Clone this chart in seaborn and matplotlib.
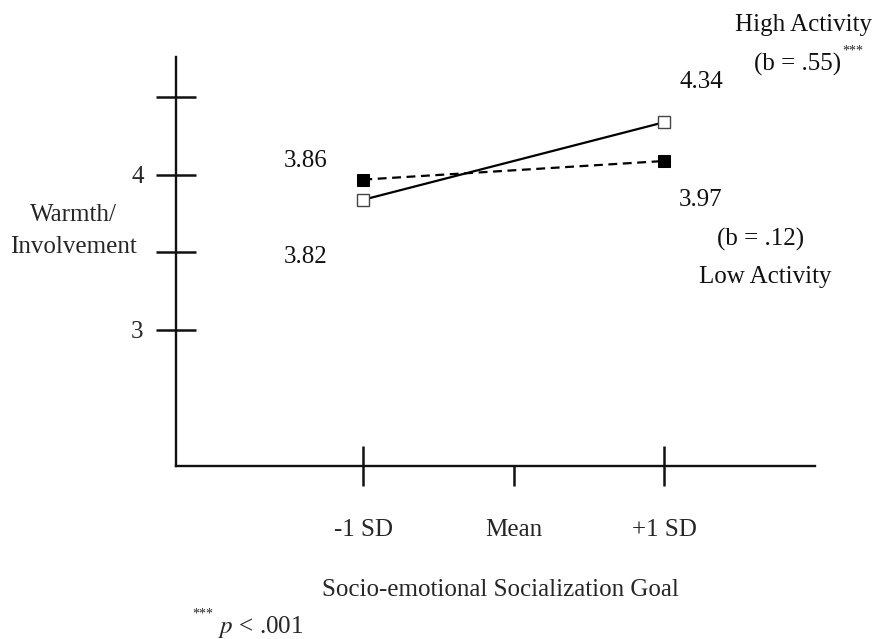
import matplotlib
matplotlib.use('Agg')
import matplotlib.pyplot as plt
import seaborn as sns
import pandas as pd

# Data
x_pos = [-1, 1]
high_activity = [3.84, 4.34]
low_activity = [3.97, 4.09]
x_ticks = [-1, 0, 1]
x_tick_labels = ['-1 SD', 'Mean', '+1 SD']
y_ticks = [3, 3.5, 4, 4.5]
y_tick_labels = ['3', '', '4', '']

sns.set_theme(style='white')
plt.rcParams['font.family'] = ['Liberation Serif', 'DejaVu Serif']
plt.rcParams['mathtext.fontset'] = 'stix'

FS = 18

df_high = pd.DataFrame({'x': x_pos, 'y': high_activity})
df_low = pd.DataFrame({'x': x_pos, 'y': low_activity})

fig = plt.figure(figsize=(8.75, 6.39), dpi=100)
ax = fig.add_axes([176 / 875, 1 - 465.7 / 639, 639 / 875, 408.7 / 639])

sns.lineplot(data=df_high, x='x', y='y', ax=ax, color='black', linewidth=1.6,
             marker='s', markersize=8.5, markerfacecolor='white',
             markeredgecolor='#444444', markeredgewidth=1.0)
sns.lineplot(data=df_low, x='x', y='y', ax=ax, color='black', linewidth=1.6,
             linestyle=(0, (4, 2.5)), marker='s', markersize=8.5,
             markerfacecolor='black', markeredgecolor='black')

ax.set_xlim(-2.245, 2.003)
ax.set_ylim(2.124, 4.761)

sns.despine(ax=ax)
for side in ['left', 'bottom']:
    ax.spines[side].set_linewidth(1.7)
    ax.spines[side].set_color('#111111')

ax.set_yticks(y_ticks)
ax.set_yticklabels(y_tick_labels, fontsize=FS)
ax.tick_params(axis='y', direction='inout', length=28.8, width=1.8,
               color='#111111', pad=9, left=True)

# major ticks point down, extra minor ticks at +-1 SD point up
ax.xaxis.remove_overlapping_locs = False
ax.set_xticks(x_ticks)
ax.set_xticklabels(x_tick_labels, fontsize=FS)
ax.set_xticks([-1, 1], minor=True)
ax.tick_params(axis='x', which='major', direction='out', length=14.4, width=1.8,
               color='#111111', pad=24, bottom=True)
ax.tick_params(axis='x', which='minor', direction='in', length=14.4, width=1.8,
               color='#111111', bottom=True)

ax.set_xlabel('Socio-emotional Socialization Goal', fontsize=FS)
ax.xaxis.set_label_coords(0.507, -0.304)
ax.xaxis.label.set_va('center')
ax.set_ylabel('Warmth/\nInvolvement', fontsize=FS, rotation=0,
              ha='center', va='center', multialignment='center',
              linespacing=1.55)
ax.yaxis.set_label_coords(-0.161, 0.574)

# annotations
txt = dict(fontsize=FS, ha='center', va='center', clip_on=False, color='#111111')
ax.text(1.924, 4.968, 'High Activity', **txt)
ax.text(1.884, 4.71, '(b = .55)', **txt)
ax.text(2.256, 4.80, '***', fontsize=10, ha='center', va='center', clip_on=False)
ax.text(1.247, 4.60, '4.34', **txt)
ax.text(1.239, 3.839, '3.97', **txt)
ax.text(1.638, 3.581, '(b = .12)', **txt)
ax.text(1.672, 3.342, 'Low Activity', **txt)
ax.text(-1.381, 4.09, '3.86', **txt)
ax.text(-1.381, 3.471, '3.82', **txt)

fig.text(203 / 875, 1 - 614 / 639, '***', fontsize=10, ha='center', va='center')
fig.text(218 / 875, 1 - 627 / 639, '$p$ < .001', fontsize=FS, ha='left', va='center')

plt.savefig('out.png', dpi=100)
